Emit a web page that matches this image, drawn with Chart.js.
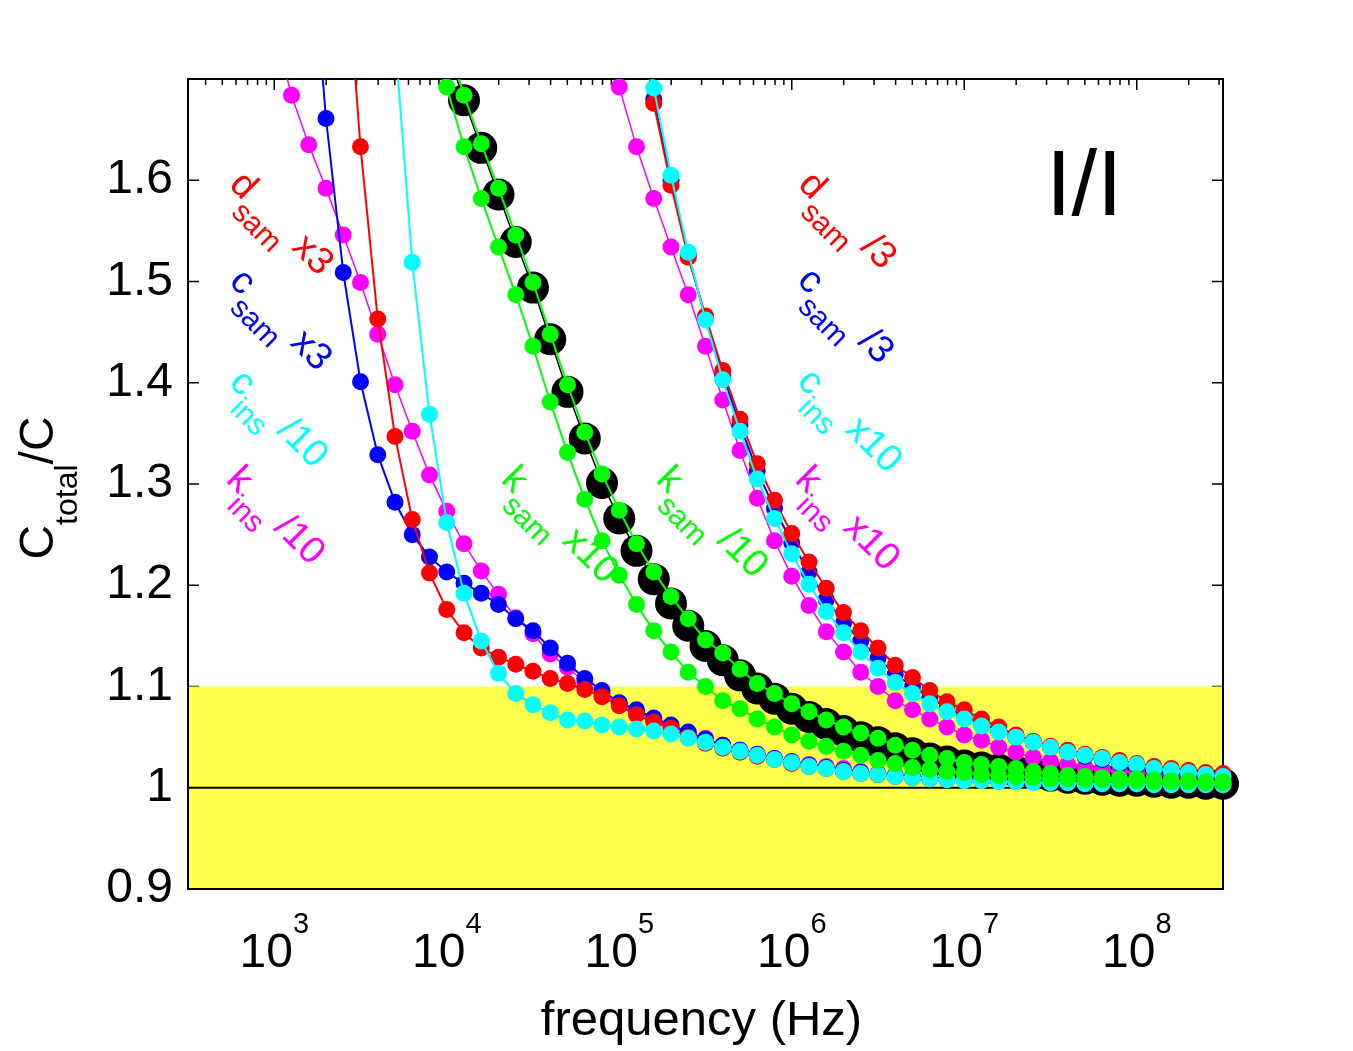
<!DOCTYPE html>
<html>
<head>
<meta charset="utf-8">
<title>Ctotal/C vs frecuencia</title>
<script src="https://cdn.jsdelivr.net/npm/chart.js@4.4.1/dist/chart.umd.min.js"></script>
<style>
    html, body { margin: 0; padding: 0; background: #fff; overflow: hidden; }
    #wrap { width: 1353px; height: 1051px; }
</style>
</head>
<body>
<div id="wrap"><canvas id="myChart" width="1353" height="1051"></canvas></div>
<script>
// Frecuencias (Hz), 10 puntos por década
const freqs = [
    1.000e3, 1.259e3, 1.585e3, 1.995e3, 2.512e3, 3.162e3, 3.981e3, 5.012e3, 6.310e3, 7.943e3,
    1.000e4, 1.259e4, 1.585e4, 1.995e4, 2.512e4, 3.162e4, 3.981e4, 5.012e4, 6.310e4, 7.943e4,
    1.000e5, 1.259e5, 1.585e5, 1.995e5, 2.512e5, 3.162e5, 3.981e5, 5.012e5, 6.310e5, 7.943e5,
    1.000e6, 1.259e6, 1.585e6, 1.995e6, 2.512e6, 3.162e6, 3.981e6, 5.012e6, 6.310e6, 7.943e6,
    1.000e7, 1.259e7, 1.585e7, 1.995e7, 2.512e7, 3.162e7, 3.981e7, 5.012e7, 6.310e7, 7.943e7,
    1.000e8, 1.259e8, 1.585e8, 1.995e8, 2.512e8, 3.162e8
];

// Curva de referencia (negro)
const baseline = [
    null, null, null, null, null, null, null, null, null, null,
    1.73, 1.679, 1.632, 1.586, 1.539, 1.494, 1.443, 1.391, 1.345, 1.301,
    1.266, 1.234, 1.206, 1.182, 1.160, 1.140, 1.126, 1.111, 1.098, 1.088,
    1.078, 1.070, 1.063, 1.056, 1.050, 1.045, 1.039, 1.034, 1.029, 1.026,
    1.022, 1.020, 1.018, 1.016, 1.014, 1.012, 1.010, 1.009, 1.008, 1.007,
    1.007, 1.006, 1.005, 1.005, 1.004, 1.004
];

// d_sam
const dSamX3 = [
    null, null, null, null, 1.86, 1.633, 1.463, 1.347, 1.265, 1.212,
    1.176, 1.153, 1.138, 1.129, 1.122, 1.115, 1.108, 1.103, 1.097, 1.090,
    1.081, 1.072, 1.065, 1.059, 1.050, 1.044, 1.039, 1.035, 1.031, 1.028,
    1.024, 1.021, 1.019, 1.016, 1.014, 1.013, 1.011, 1.010, 1.009, 1.008,
    1.008, 1.007, 1.007, 1.006, 1.006, 1.005, 1.005, 1.005, 1.004, 1.004,
    1.004, 1.004, 1.003, 1.003, 1.003, 1.003
];
const dSamDiv3 = [
    null, null, null, null, null, null, null, null, null, null,
    null, null, null, null, null, null, null, null, null, null,
    null, 1.78, 1.676, 1.595, 1.524, 1.466, 1.412, 1.364, 1.320, 1.284,
    1.251, 1.223, 1.197, 1.173, 1.155, 1.138, 1.121, 1.109, 1.096, 1.085,
    1.077, 1.068, 1.060, 1.052, 1.046, 1.041, 1.037, 1.033, 1.030, 1.027,
    1.024, 1.021, 1.019, 1.017, 1.015, 1.014
];

// c_sam
const cSamX3 = [
    null, null, 1.87, 1.661, 1.509, 1.401, 1.329, 1.282, 1.250, 1.228,
    1.213, 1.202, 1.192, 1.181, 1.167, 1.155, 1.138, 1.123, 1.108, 1.096,
    1.084, 1.077, 1.069, 1.062, 1.055, 1.048, 1.042, 1.037, 1.033, 1.029,
    1.026, 1.022, 1.020, 1.017, 1.015, 1.013, 1.012, 1.011, 1.010, 1.009,
    1.008, 1.008, 1.007, 1.007, 1.006, 1.006, 1.005, 1.005, 1.005, 1.004,
    1.004, 1.004, 1.004, 1.003, 1.003, 1.003
];
const cSamDiv3 = [
    null, null, null, null, null, null, null, null, null, null,
    null, null, null, null, null, null, null, null, null, null,
    null, 1.78, 1.68, 1.600, 1.526, 1.464, 1.408, 1.358, 1.313, 1.276,
    1.242, 1.213, 1.186, 1.163, 1.145, 1.128, 1.112, 1.100, 1.089, 1.079,
    1.071, 1.063, 1.056, 1.050, 1.045, 1.040, 1.035, 1.031, 1.028, 1.024,
    1.022, 1.018, 1.016, 1.014, 1.012, 1.010
];

// c_ins
const cInsDiv10 = [
    null, null, null, null, null, null, null, 1.74, 1.519, 1.369,
    1.262, 1.192, 1.145, 1.113, 1.093, 1.082, 1.074, 1.067, 1.066, 1.062,
    1.060, 1.058, 1.056, 1.053, 1.049, 1.045, 1.040, 1.036, 1.032, 1.028,
    1.025, 1.021, 1.019, 1.016, 1.014, 1.013, 1.011, 1.010, 1.009, 1.008,
    1.007, 1.007, 1.006, 1.006, 1.005, 1.005, 1.005, 1.004, 1.004, 1.004,
    1.004, 1.003, 1.003, 1.003, 1.003, 1.003
];
const cInsX10 = [
    null, null, null, null, null, null, null, null, null, null,
    null, null, null, null, null, null, null, null, null, null,
    null, 1.80, 1.691, 1.605, 1.529, 1.462, 1.403, 1.352, 1.305, 1.266,
    1.231, 1.201, 1.174, 1.153, 1.134, 1.118, 1.104, 1.093, 1.083, 1.075,
    1.068, 1.061, 1.055, 1.050, 1.045, 1.040, 1.035, 1.032, 1.029, 1.025,
    1.023, 1.019, 1.017, 1.015, 1.013, 1.011
];

// k_ins
const kInsDiv10 = [
    1.75, 1.684, 1.635, 1.592, 1.546, 1.499, 1.448, 1.398, 1.352, 1.309,
    1.273, 1.241, 1.214, 1.191, 1.168, 1.152, 1.132, 1.119, 1.104, 1.093,
    1.083, 1.075, 1.067, 1.060, 1.054, 1.049, 1.042, 1.037, 1.032, 1.029,
    1.025, 1.023, 1.021, 1.019, 1.016, 1.014, 1.012, 1.011, 1.010, 1.009,
    1.009, 1.008, 1.007, 1.007, 1.006, 1.006, 1.005, 1.005, 1.005, 1.004,
    1.004, 1.004, 1.004, 1.003, 1.003, 1.003
];
const kInsX10 = [
    null, null, null, null, null, null, null, null, null, null,
    null, null, null, null, null, null, null, null, null, 1.76,
    1.692, 1.633, 1.582, 1.534, 1.487, 1.436, 1.383, 1.333, 1.286, 1.244,
    1.209, 1.180, 1.154, 1.134, 1.114, 1.100, 1.086, 1.077, 1.068, 1.060,
    1.052, 1.047, 1.040, 1.035, 1.030, 1.026, 1.023, 1.020, 1.018, 1.016,
    1.015, 1.013, 1.012, 1.011, 1.010, 1.009
];

// k_sam
const kSamX10 = [
    null, null, null, null, null, null, null, null, null, 1.76,
    1.692, 1.633, 1.582, 1.534, 1.487, 1.436, 1.381, 1.331, 1.285, 1.244,
    1.210, 1.181, 1.155, 1.134, 1.114, 1.100, 1.086, 1.078, 1.068, 1.060,
    1.052, 1.046, 1.041, 1.036, 1.032, 1.027, 1.024, 1.020, 1.018, 1.016,
    1.015, 1.013, 1.012, 1.011, 1.010, 1.009, 1.009, 1.008, 1.008, 1.007,
    1.007, 1.006, 1.006, 1.006, 1.005, 1.005
];
const kSamDiv10 = [
    null, null, null, null, null, null, null, null, null, null,
    1.74, 1.684, 1.636, 1.592, 1.546, 1.499, 1.448, 1.398, 1.351, 1.310,
    1.274, 1.241, 1.213, 1.189, 1.167, 1.146, 1.133, 1.117, 1.103, 1.093,
    1.083, 1.075, 1.067, 1.060, 1.054, 1.049, 1.042, 1.037, 1.032, 1.029,
    1.025, 1.023, 1.021, 1.019, 1.016, 1.014, 1.012, 1.011, 1.010, 1.009,
    1.009, 1.008, 1.007, 1.007, 1.006, 1.006
];

// Ejes, banda y etiquetas
const xRange = [316.23, 3.1623e8];
const yRange = [0.9, 1.7];
const xTickExponents = [3, 4, 5, 6, 7, 8];
const bandRange = [0.9, 1.1];
const refLine = 1;

// Etiquetas de las curvas: letra, subíndice, sufijo
const curveLabels = [
    { main: 'd', sub: 'sam', tail: ' x3', color: '#ff0000', x: 228, y: 186 },
    { main: 'c', sub: 'sam', tail: ' x3', color: '#0000ff', x: 228, y: 283 },
    { main: 'c', sub: 'ins', tail: ' /10', color: '#00ffff', x: 228, y: 384 },
    { main: 'k', sub: 'ins', tail: ' /10', color: '#ff00ff', x: 225, y: 481 },
    { main: 'k', sub: 'sam', tail: ' x10', color: '#00ff00', x: 500, y: 481 },
    { main: 'k', sub: 'sam', tail: ' /10', color: '#00ff00', x: 655, y: 481 },
    { main: 'd', sub: 'sam', tail: ' /3', color: '#ff0000', x: 797, y: 186 },
    { main: 'c', sub: 'sam', tail: ' /3', color: '#0000ff', x: 796, y: 282 },
    { main: 'c', sub: 'ins', tail: ' x10', color: '#00ffff', x: 796, y: 383 },
    { main: 'k', sub: 'ins', tail: ' x10', color: '#ff00ff', x: 794, y: 481 }
];

const FONT = '"Liberation Sans", Arial, Helvetica, sans-serif';

// Convertir arrays en puntos {x, y}
function toPoints(values) {
    const pts = [];
    values.forEach((v, i) => {
        if (v !== null) pts.push({ x: freqs[i], y: v });
    });
    return pts;
}

function serie(values, color, radius, width) {
    return {
        data: toPoints(values),
        borderColor: color,
        backgroundColor: color,
        pointBackgroundColor: color,
        pointBorderWidth: 0,
        pointRadius: radius,
        pointHoverRadius: radius,
        borderWidth: width,
        tension: 0,
        clip: { left: 20, top: 0, right: false, bottom: 20 }
    };
}

// Texto con trozos de distinto tamaño (subíndices / exponentes)
function drawRich(ctx, parts, x, y) {
    let w = 0;
    parts.forEach(p => {
        ctx.font = p.size + 'px ' + FONT;
        ctx.fillText(p.text, x + w, y + (p.dy || 0));
        w += ctx.measureText(p.text).width;
    });
    return w;
}

function richWidth(ctx, parts) {
    let w = 0;
    parts.forEach(p => {
        ctx.font = p.size + 'px ' + FONT;
        w += ctx.measureText(p.text).width;
    });
    return w;
}

const decorPlugin = {
    id: 'decor',
    beforeDatasetsDraw(chart) {
        const { ctx, chartArea: a, scales: { x, y } } = chart;
        ctx.save();

        // marcas hacia dentro
        ctx.strokeStyle = '#000';
        ctx.lineWidth = 1.5;
        ctx.beginPath();
        y.ticks.forEach(t => {
            const py = y.getPixelForValue(t.value);
            ctx.moveTo(a.left, py); ctx.lineTo(a.left + 11, py);
            ctx.moveTo(a.right, py); ctx.lineTo(a.right - 11, py);
        });
        for (let e = 2; e <= 8; e++) {
            for (let m = 1; m <= 9; m++) {
                const v = m * Math.pow(10, e);
                if (v < x.min || v > x.max) continue;
                const px = x.getPixelForValue(v);
                const len = m === 1 ? 11 : 6;
                ctx.moveTo(px, a.top); ctx.lineTo(px, a.top + len);
                ctx.moveTo(px, a.bottom); ctx.lineTo(px, a.bottom - len);
            }
        }
        ctx.stroke();

        // banda amarilla
        const b0 = y.getPixelForValue(bandRange[0]);
        const b1 = y.getPixelForValue(bandRange[1]);
        ctx.fillStyle = '#ffff4d';
        ctx.fillRect(a.left, b1, a.right - a.left, b0 - b1);

        // línea en 1
        const py1 = y.getPixelForValue(refLine);
        ctx.lineWidth = 2;
        ctx.beginPath();
        ctx.moveTo(a.left, py1);
        ctx.lineTo(a.right, py1);
        ctx.stroke();

        // marco
        ctx.strokeRect(a.left, a.top, a.right - a.left, a.bottom - a.top);
        ctx.restore();
    },
    afterDraw(chart) {
        const { ctx, chartArea: a, scales: { x } } = chart;
        ctx.save();
        ctx.fillStyle = '#000';
        ctx.textBaseline = 'alphabetic';
        ctx.textAlign = 'left';

        // etiquetas 10^n del eje x
        xTickExponents.forEach(e => {
            const parts = [
                { text: '10', size: 48 },
                { text: String(e), size: 29, dy: -34 }
            ];
            const w = richWidth(ctx, parts);
            drawRich(ctx, parts, x.getPixelForValue(Math.pow(10, e)) - w / 2, 967);
        });

        // título eje x
        ctx.font = '49px ' + FONT;
        ctx.textAlign = 'center';
        ctx.fillText('frequency (Hz)', (a.left + a.right) / 2 - 4, 1035);
        ctx.textAlign = 'left';

        // título eje y: C_total/C
        const yParts = [
            { text: 'C', size: 48 },
            { text: 'total', size: 32, dy: 24 },
            { text: '/C', size: 48 }
        ];
        const yw = richWidth(ctx, yParts);
        ctx.save();
        ctx.translate(53, (a.top + a.bottom) / 2 + 4);
        ctx.rotate(-Math.PI / 2);
        drawRich(ctx, yParts, -yw / 2, 0);
        ctx.restore();

        // etiquetas giradas de cada curva
        curveLabels.forEach(l => {
            ctx.save();
            ctx.translate(l.x, l.y);
            ctx.rotate(Math.PI / 4);
            ctx.fillStyle = l.color;
            drawRich(ctx, [
                { text: l.main, size: 38 },
                { text: l.sub, size: 30, dy: 18 },
                { text: l.tail, size: 38 }
            ], 0, 0);
            ctx.restore();
        });

        // etiqueta I/I
        ctx.font = '92px ' + FONT;
        ctx.fillText('I/I', 1046, 215);
        ctx.restore();
    }
};

// Función para inicializar la gráfica
function initChart() {
    const ctx = document.getElementById('myChart').getContext('2d');

    // el primer dataset se dibuja encima
    const datasets = [
        serie(kSamDiv10, '#00ff00', 8.5, 2),
        serie(kSamX10, '#00ff00', 8.5, 2),
        serie(cInsX10, '#00ffff', 8.5, 2),
        serie(cInsDiv10, '#00ffff', 8.5, 2),
        serie(dSamDiv3, '#ff0000', 8.5, 2),
        serie(dSamX3, '#ff0000', 8.5, 2),
        serie(cSamDiv3, '#0000ff', 8.5, 2),
        serie(cSamX3, '#0000ff', 8.5, 2),
        serie(kInsX10, '#ff00ff', 8.5, 1.5),
        serie(kInsDiv10, '#ff00ff', 8.5, 1.5),
        serie(baseline, '#000000', 16, 1.5)
    ];

    new Chart(ctx, {
        type: 'line',
        data: { datasets: datasets },
        options: {
            responsive: false,
            animation: false,
            layout: { padding: { top: 79, right: 130, left: 0, bottom: 0 } },
            plugins: {
                legend: { display: false },
                tooltip: { enabled: false }
            },
            scales: {
                x: {
                    type: 'logarithmic',
                    min: xRange[0],
                    max: xRange[1],
                    grid: { display: false, drawTicks: false },
                    border: { display: false },
                    ticks: { display: false },
                    afterFit: s => { s.height = 162; }
                },
                y: {
                    type: 'linear',
                    min: yRange[0],
                    max: yRange[1],
                    grid: { display: false, drawTicks: false },
                    border: { display: false },
                    ticks: {
                        stepSize: 0.1,
                        padding: 15,
                        color: '#000',
                        font: { family: FONT, size: 48 },
                        callback: v => (v > 1.65 ? '' : String(Math.round(v * 10) / 10))
                    },
                    afterFit: s => { s.width = 188; }
                }
            }
        },
        plugins: [decorPlugin]
    });
}

document.addEventListener('DOMContentLoaded', initChart);
</script>
</body>
</html>
